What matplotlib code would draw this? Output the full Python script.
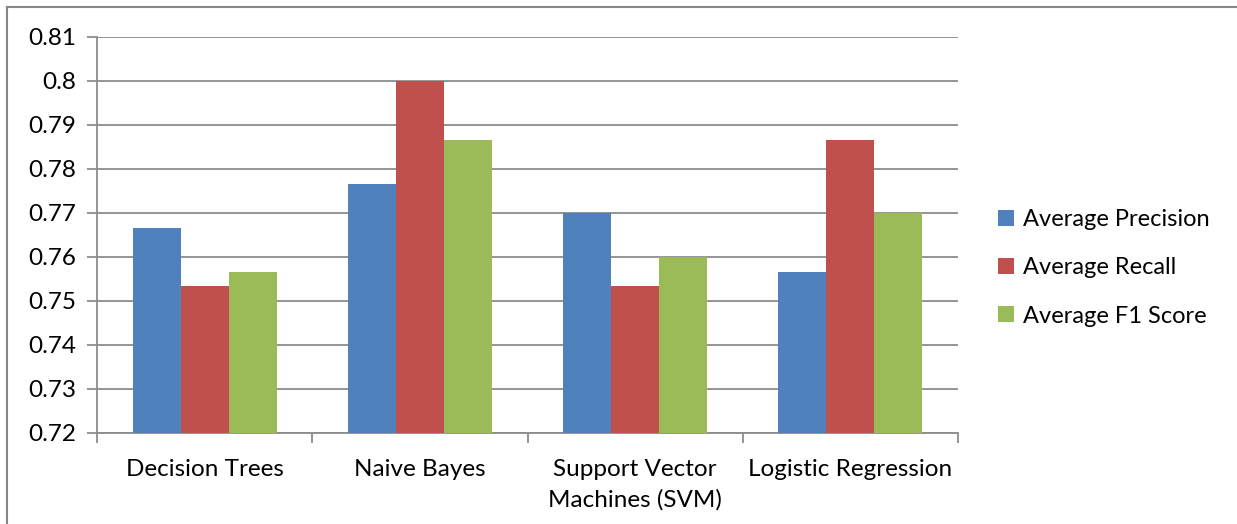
import numpy as np
import matplotlib.pyplot as plt
from matplotlib.lines import Line2D

plt.rcParams['font.family'] = ['Lato', 'DejaVu Sans']

models = ["Decision Trees", "Naive Bayes", "Support Vector\nMachines (SVM)", "Logistic Regression"]
precision = [0.7667, 0.7767, 0.7700, 0.7567]
recall = [0.7533, 0.8000, 0.7533, 0.7867]
f1 = [0.7567, 0.7867, 0.7600, 0.7700]
series_names = ["Average Precision", "Average Recall", "Average F1 Score"]
colors = ["#4f81bd", "#c0504d", "#9bbb59"]

fs = 17.5

fig = plt.figure(figsize=(12.37, 5.24), dpi=100)
ax = fig.add_axes([0.0784, 0.1737, 0.6961, 0.7557])

x = np.arange(len(models))
w = 0.223
for i, (vals, name, c) in enumerate(zip([precision, recall, f1], series_names, colors)):
    ax.bar(x + (i - 1) * w, np.array(vals) - 0.72, w, bottom=0.72, color=c, label=name, zorder=3)

ax.set_ylim(0.72, 0.81)
ax.set_xlim(-0.5, len(models) - 0.5)
ax.set_yticks(np.arange(0.72, 0.8101, 0.01))
ax.set_yticklabels(["0.72", "0.73", "0.74", "0.75", "0.76", "0.77", "0.78", "0.79", "0.8", "0.81"])
ax.yaxis.grid(True, color="#8c8c8c", linewidth=1.3, zorder=0)

# category ticks sit on the boundaries between groups
ax.set_xticks(np.arange(-0.5, len(models), 1.0))
ax.set_xticklabels([])
ax.set_xticks(x, minor=True)
ax.set_xticklabels(models, minor=True, fontsize=fs, linespacing=1.5)
ax.tick_params(axis="x", which="minor", length=0, pad=19)
ax.tick_params(axis="x", which="major", length=7, color="#8c8c8c", width=1.3)
ax.tick_params(axis="y", length=7, color="#8c8c8c", width=1.3, labelsize=fs, pad=8)

for s in ["top", "right"]:
    ax.spines[s].set_visible(False)
for s in ["left", "bottom"]:
    ax.spines[s].set_color("#8c8c8c")
    ax.spines[s].set_linewidth(1.3)

ax.legend(loc="center left", bbox_to_anchor=(1.022, 0.4167), frameon=False, fontsize=17,
          handlelength=0.65, handleheight=0.65, handletextpad=0.4, labelspacing=1.15)

# outer chart frame
fig.add_artist(Line2D([7 / 1237, 7 / 1237], [0, 1 - 7 / 524], transform=fig.transFigure, color="#868686", lw=1.5))
fig.add_artist(Line2D([7 / 1237, 1], [1 - 7 / 524, 1 - 7 / 524], transform=fig.transFigure, color="#868686", lw=1.5))

fig.savefig("out.png", dpi=100)
